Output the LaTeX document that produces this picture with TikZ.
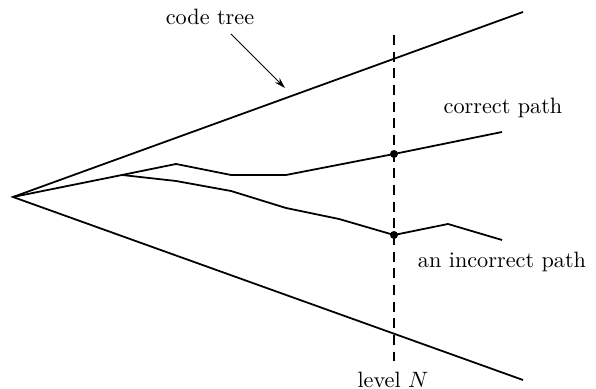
\documentclass[tikz,border=0pt]{standalone}
\usetikzlibrary{arrows.meta}
\begin{document}
\begin{tikzpicture}[x=0.45pt,y=-0.45pt,
  treeline/.style={line width=0.8pt},
  pathline/.style={line width=0.8pt, line join=round},
  levelline/.style={line width=0.8pt, dash pattern=on 4.5pt off 3pt},
  dotnode/.style={circle, fill=black, inner sep=0pt, minimum size=3.6pt},
  lbl/.style={inner sep=1pt}]
\useasboundingbox (0,0) rectangle (596,389);
\coordinate (O) at (13,197);
\coordinate (U) at (523,12);
\coordinate (L) at (523,380);
\coordinate (B) at (122,175);
\draw[treeline] (U) -- (O) -- (L);
\node[dotnode] (c) at (394,154) {};
\node[dotnode] (i) at (394,235) {};
\coordinate (ce) at (502,132);
\coordinate (ie) at (502,240);
\draw[pathline] (O) -- (B) -- (176,164) -- (231,175) -- (286,175) -- (c.center) -- (ce);
\draw[pathline] (B) -- (176,181) -- (231,191) -- (286,208) -- (339,219) -- (i.center) -- (448,224) -- (ie);
\coordinate (dt) at (394,35);
\coordinate (db) at (394,361);
\draw[levelline] (dt) -- (db);
\node[lbl] (lev) at (393,380) {level $N$};
\node[lbl] (cp) at (503,108) {correct path};
\node[lbl] (ip) at (502,262) {an incorrect path};
\node[lbl] (ct) at (210,17) {code tree};
\coordinate (as) at (231,34);
\coordinate (ae) at (285,88);
\draw[-{Stealth[length=5pt,width=3pt]}, line width=0.4pt] (as) -- (ae);
\end{tikzpicture}
\end{document}
